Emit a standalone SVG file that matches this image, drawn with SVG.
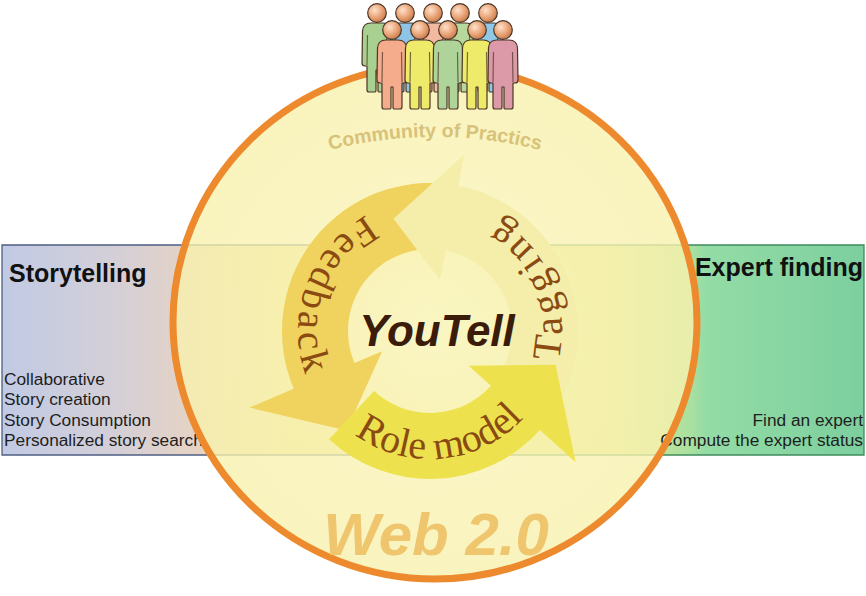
<svg xmlns="http://www.w3.org/2000/svg" xmlns:xlink="http://www.w3.org/1999/xlink" width="866" height="596" viewBox="0 0 866 596">
  <style>
    .title { font-family: "Liberation Sans", Arial, sans-serif; font-weight: bold; font-size: 25px; fill: #111; }
    .item { font-family: "Liberation Sans", Arial, sans-serif; font-size: 17.3px; fill: #1e1e1e; }
    .cycle-label { font-family: "Liberation Serif", "Times New Roman", serif; font-size: 40px; fill: #8a4a12; }
    .person-line { fill: none; stroke: #4b3526; stroke-width: 1.2; stroke-linejoin: round; }
  </style>
  <defs>
    <linearGradient id="leftFill" gradientUnits="userSpaceOnUse" x1="2" y1="0" x2="435" y2="0">
      <stop offset="0" stop-color="#c1cae4"/>
      <stop offset="0.25" stop-color="#d3cfd8"/>
      <stop offset="0.45" stop-color="#e6d3c4"/>
      <stop offset="0.65" stop-color="#f0e49a"/>
      <stop offset="1" stop-color="#f2ea90"/>
    </linearGradient>
    <linearGradient id="rightFill" gradientUnits="userSpaceOnUse" x1="435" y1="0" x2="864" y2="0">
      <stop offset="0" stop-color="#f2ea90"/>
      <stop offset="0.4" stop-color="#e4ec98"/>
      <stop offset="0.6" stop-color="#a8e0a0"/>
      <stop offset="0.63" stop-color="#94dca6"/>
      <stop offset="1" stop-color="#7ccf9e"/>
    </linearGradient>
    <radialGradient id="discFill" gradientUnits="userSpaceOnUse" cx="432" cy="330" r="262">
      <stop offset="0" stop-color="#fcf9d0"/>
      <stop offset="0.3" stop-color="#fbf6c4"/>
      <stop offset="0.6" stop-color="#f8f2b2"/>
      <stop offset="1" stop-color="#f8f1ae"/>
    </radialGradient>
    <radialGradient id="skin" cx="0.38" cy="0.35" r="0.7">
      <stop offset="0" stop-color="#fde2cc"/>
      <stop offset="0.55" stop-color="#eba67a"/>
      <stop offset="1" stop-color="#c47848"/>
    </radialGradient>
    <linearGradient id="bodyShade" x1="0" y1="0" x2="1" y2="0">
      <stop offset="0" stop-color="#fff" stop-opacity="0.35"/>
      <stop offset="0.45" stop-color="#fff" stop-opacity="0"/>
      <stop offset="0.7" stop-color="#000" stop-opacity="0"/>
      <stop offset="1" stop-color="#000" stop-opacity="0.22"/>
    </linearGradient>

    <!-- one standing figure, head centre at the origin -->
    <g id="figure">
      <path id="figureBody" fill="currentColor" d="M -6,10 L 6,10 Q 14,10 14.5,18 L 15,50 Q 15,53 12,53 L 10,53 L 10,77 Q 10,79 8,79 L 2,79 Q 1,79 1,77 L 1,57 L -1,57 L -1,77 Q -1,79 -2,79 L -8,79 Q -10,79 -10,77 L -10,53 L -12,53 Q -15,53 -15,50 L -14.5,18 Q -14,10 -6,10 Z"/>
      <use xlink:href="#figureBody" href="#figureBody" fill="url(#bodyShade)"/>
      <path class="person-line" d="M -6,10 L 6,10 Q 14,10 14.5,18 L 15,50 Q 15,53 12,53 L 10,53 L 10,77 Q 10,79 8,79 L 2,79 Q 1,79 1,77 L 1,57 L -1,57 L -1,77 Q -1,79 -2,79 L -8,79 Q -10,79 -10,77 L -10,53 L -12,53 Q -15,53 -15,50 L -14.5,18 Q -14,10 -6,10 Z"/>
      <path class="person-line" stroke-opacity="0.7" d="M -9.5,22 L -10,52 M 9.5,22 L 10,52"/>
      <circle cx="0" cy="0" r="9.3" fill="url(#skin)" stroke="#4b3526" stroke-width="1.2"/>
    </g>

    <!-- baselines for the curved labels -->
    <path id="communityArc" d="M 300,158.8 A 428 428 0 0 1 570,158.8"/>
    <path id="feedbackArc" d="M 407.1,201.0 A 132 132 0 0 0 328.9,415.8"/>
    <path id="taggingArc" d="M 531.1,415.8 A 132 132 0 0 0 436.9,199.2"/>
    <path id="roleArc" d="M 325.1,404.4 A 128 128 0 0 0 546.9,383.1"/>
  </defs>

  <!-- horizontal band behind the disc -->
  <g id="storytelling-panel">
    <rect x="2" y="245" width="433" height="210" fill="url(#leftFill)"/>
    <path d="M 435,245 H 2 V 455 H 435" fill="none" stroke="#4e5d82" stroke-width="1.3"/>
  </g>
  <g id="expert-panel">
    <rect x="435" y="245" width="429" height="210" fill="url(#rightFill)"/>
    <path d="M 435,245 H 864 V 455 H 435" fill="none" stroke="#3f8a5c" stroke-width="1.3"/>
  </g>

  <!-- Web 2.0 disc -->
  <g id="web20-disc">
    <ellipse cx="435" cy="322" rx="262" ry="257" fill="url(#discFill)" fill-opacity="0.8"/>
  </g>

  <g id="storytelling-text">
    <text class="title" x="9" y="282">Storytelling</text>
    <text class="item" x="4" y="384.5">Collaborative</text>
    <text class="item" x="4" y="405">Story creation</text>
    <text class="item" x="4" y="425.5">Story Consumption</text>
    <text class="item" x="4" y="446">Personalized story search</text>
  </g>
  <g id="expert-text">
    <text class="title" x="863" y="276" text-anchor="end">Expert finding</text>
    <text class="item" x="863" y="426" text-anchor="end">Find an expert</text>
    <text class="item" x="863" y="445.5" text-anchor="end">Compute the expert status</text>
  </g>

  <g id="web20-rim">
    <ellipse cx="435" cy="322" rx="262" ry="257" fill="none" stroke="#ee8a2e" stroke-width="7"/>
  </g>

  <g id="community-label">
    <text font-family="'Liberation Sans', Arial, sans-serif" font-weight="bold" font-size="19.5" fill="#d8c27a" text-anchor="middle">
      <textPath xlink:href="#communityArc" href="#communityArc" startOffset="50%">Community of Practics</textPath>
    </text>
  </g>

  <!-- the YouTell cycle -->
  <g id="connectors">
    <path id="arrow-feedback" fill="#efd35e" d="M 442.90,183.56 A 148 148 0 0 0 293.77,388.83 L 249.58,407.58 L 346.44,430.59 L 382.13,351.32 L 354.52,363.04 A 82 82 0 0 1 437.15,249.31 Z"/>
    <path id="arrow-tagging" fill="#f5eeab" d="M 558.17,405 A 148 148 0 0 0 458.24,185.72 L 464.35,154.31 L 393.54,218.78 L 439.92,279.95 L 445.65,250.51 A 82 82 0 0 1 501.01,372 Z"/>
    <path id="arrow-role" fill="#ede24e" d="M 329.06,439.24 A 148 148 0 0 0 539.98,430.03 L 575.66,462.15 L 555.57,364.65 L 468.64,365.79 L 490.94,385.87 A 82 82 0 0 1 374.08,390.97 Z"/>
  </g>

  <g id="cycle-labels">
    <text class="cycle-label" text-anchor="middle" letter-spacing="4.5">
      <textPath xlink:href="#feedbackArc" href="#feedbackArc" startOffset="50%">Feedback</textPath>
    </text>
    <text class="cycle-label" text-anchor="middle" letter-spacing="5.5">
      <textPath xlink:href="#taggingArc" href="#taggingArc" startOffset="50%">Tagging</textPath>
    </text>
    <text class="cycle-label" text-anchor="middle" letter-spacing="0">
      <textPath xlink:href="#roleArc" href="#roleArc" startOffset="50%">Role model</textPath>
    </text>
  </g>

  <g id="youtell">
    <text x="437" y="346" text-anchor="middle" font-family="'Liberation Sans', Arial, sans-serif" font-weight="bold" font-style="italic" font-size="44" fill="#3b1b0a">YouTell</text>
  </g>

  <g id="web20-label">
    <text x="436" y="555" text-anchor="middle" font-family="'Liberation Sans', Arial, sans-serif" font-weight="bold" font-style="italic" font-size="60" fill="#efc66e">Web 2.0</text>
  </g>

  <!-- community of people -->
  <g id="community">
    <use xlink:href="#figure" href="#figure" x="377" y="13" style="color:#a8d090"/>
    <use xlink:href="#figure" href="#figure" x="405" y="13" style="color:#8ec4e6"/>
    <use xlink:href="#figure" href="#figure" x="433" y="13" style="color:#f2b8a0"/>
    <use xlink:href="#figure" href="#figure" x="460" y="13" style="color:#b6d89c"/>
    <use xlink:href="#figure" href="#figure" x="488" y="13" style="color:#90c8e8"/>
    <use xlink:href="#figure" href="#figure" x="392" y="30" style="color:#f4ac8c"/>
    <use xlink:href="#figure" href="#figure" x="420" y="30" style="color:#eeea6a"/>
    <use xlink:href="#figure" href="#figure" x="448" y="30" style="color:#aed49a"/>
    <use xlink:href="#figure" href="#figure" x="477" y="30" style="color:#eeea6a"/>
    <use xlink:href="#figure" href="#figure" x="503" y="30" style="color:#dc9aa8"/>
  </g>
</svg>
